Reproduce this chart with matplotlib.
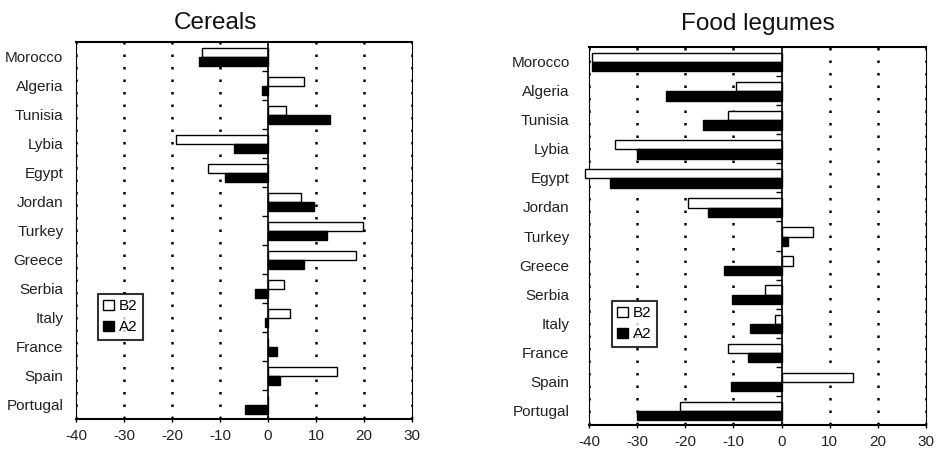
import matplotlib
matplotlib.use("Agg")
import matplotlib.pyplot as plt
from matplotlib.patches import Patch
import numpy as np

plt.rcParams['font.family'] = ['Liberation Sans', 'DejaVu Sans']

countries = ["Morocco", "Algeria", "Tunisia", "Lybia", "Egypt", "Jordan", "Turkey",
             "Greece", "Serbia", "Italy", "France", "Spain", "Portugal"]

cereals_b2 = [-13.7, 7.6, 3.8, -19.1, -12.4, 6.9, 19.8, 18.3, 3.3, 4.5, 0.0, 14.4, 0.0]
cereals_a2 = [-14.4, -1.3, 13.0, -7.0, -9.0, 9.6, 12.3, 7.6, -2.7, -0.7, 1.9, 2.6, -4.7]

legumes_b2 = [-39.3, -9.4, -11.2, -34.7, -40.9, -19.5, 6.6, 2.4, -3.5, -1.3, -11.2, 14.8, -21.2]
legumes_a2 = [-39.3, -24.0, -16.3, -30.0, -35.7, -15.2, 1.4, -11.9, -10.3, -6.6, -6.9, -10.6, -30.0]

xticks = [-40, -30, -20, -10, 0, 10, 20, 30]
xticklabels = ["-40", "-30", "-20", "-10", "0", "10", "20", "30"]

fig = plt.figure(figsize=(9.36, 4.51), dpi=100)

def panel(rect, b2, a2, title, title_x, title_y, legend_pos, label_pad):
    ax = fig.add_axes(rect)
    n = len(countries)
    y = np.arange(n) + 0.5
    h = 0.32
    ax.barh(y - h / 2 + 0.02, b2, height=h, color="white", edgecolor="black",
            linewidth=1.0, clip_on=False, zorder=3)
    ax.barh(y + h / 2 + 0.02, a2, height=h, color="black", edgecolor="black",
            linewidth=1.0, clip_on=False, zorder=3)
    ax.set_xlim(-40, 30)
    ax.set_ylim(n, 0)
    for xv in [-40, -30, -20, -10, 10, 20, 30]:
        ax.axvline(xv, color="black", linestyle=(0, (1.0, 4.0)), linewidth=1.8, zorder=1)
    ax.axvline(0, color="black", linewidth=1.2, zorder=4)
    ax.hlines(np.arange(1, n), -1.2, 0, color="black", linewidth=1.0, zorder=4)
    ax.set_yticks(y)
    ax.set_yticklabels(countries, fontsize=11, color="#222222")
    ax.tick_params(axis="y", length=0, pad=label_pad)
    ax.set_xticks(xticks)
    ax.set_xticklabels(xticklabels, fontsize=11, color="#222222")
    ax.tick_params(axis="x", length=4, width=1.0, direction="inout", pad=5)
    for s in ["top", "bottom"]:
        ax.spines[s].set_linewidth(1.5)
    for s in ["left", "right"]:
        ax.spines[s].set_linewidth(0.8)
    handles = [Patch(facecolor="white", edgecolor="black", linewidth=1.0, label="B2"),
               Patch(facecolor="black", edgecolor="black", linewidth=1.0, label="A2")]
    leg = ax.legend(handles=handles, loc="upper left", bbox_to_anchor=legend_pos,
                    fontsize=11, frameon=True, fancybox=False, handlelength=0.7,
                    handleheight=0.7, handletextpad=0.3, borderpad=0.35,
                    labelspacing=0.45, borderaxespad=0)
    leg.get_frame().set_edgecolor("black")
    leg.get_frame().set_linewidth(1.5)
    fig.text(title_x, title_y, title, fontsize=17.5, ha="center", va="center", color="#111111")
    return ax

W, H = 936, 451
panel([76 / W, 1 - 419 / H, 336 / W, 377 / H], cereals_b2, cereals_a2, "Cereals",
      215 / W, 1 - 23 / H, ((98 - 76) / 336, 1 - (294 - 42) / 377), 9)
panel([589 / W, 1 - 425 / H, 337 / W, 378 / H], legumes_b2, legumes_a2, "Food legumes",
      758 / W, 1 - 24 / H, ((612 - 589) / 337, 1 - (301 - 47) / 378), 14)

fig.savefig("out.png", dpi=100, facecolor="white")
